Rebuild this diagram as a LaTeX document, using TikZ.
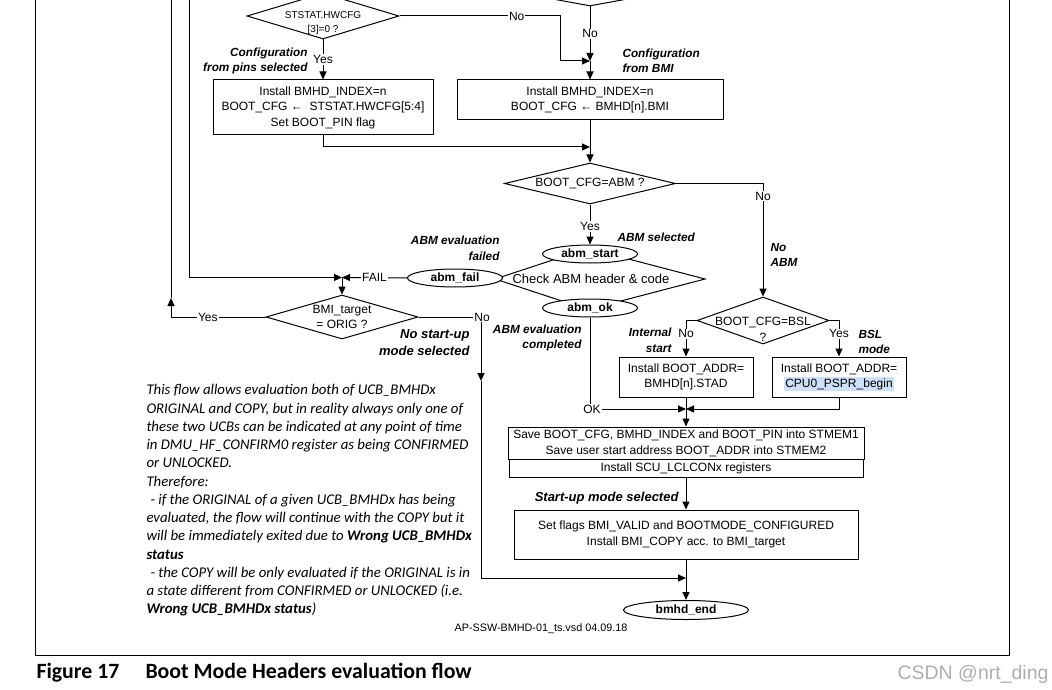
\documentclass[tikz,border=0pt]{standalone}
\usepackage{fontspec}
\setmainfont{Liberation Sans}
\newfontfamily\capfont{Carlito}
\usetikzlibrary{arrows.meta,shapes.geometric}
\definecolor{hl}{RGB}{204,224,248}
\begin{document}
\begin{tikzpicture}[x=1pt,y=-1pt,line width=1pt,
  >={Triangle[length=8pt,width=7pt]},
  box/.style={draw, rectangle, inner sep=0pt, align=center, font=\fontsize{12}{15}\selectfont},
  dia/.style={draw, diamond, inner sep=0pt, align=center, font=\fontsize{12}{15}\selectfont},
  term/.style={draw, ellipse, fill=white, inner sep=0pt, font=\bfseries\fontsize{12}{14}\selectfont},
  lab/.style={fill=white, inner sep=1pt, font=\fontsize{12}{14}\selectfont},
  note/.style={inner sep=0pt, font=\bfseries\itshape\fontsize{11.8}{15.5}\selectfont},
  notebig/.style={inner sep=0pt, font=\bfseries\itshape\fontsize{13}{17}\selectfont},
]
\useasboundingbox (0,0) rectangle (1052,690);
\clip (0,0) rectangle (1052,690);

% frame
\coordinate (fa) at (35,-5);
\coordinate (fb) at (35,655);
\coordinate (fc) at (1009,655);
\coordinate (fd) at (1009,-5);
\draw (fa) -- (fb) -- (fc) -- (fd);

% top part
\node[dia, aspect=5.45, minimum width=240, minimum height=44] (topd) at (590,-16) {};
\coordinate (j1) at (590,61);
\node[dia, aspect=3.3, minimum width=152, minimum height=46] (hw) at (323,16) {};
\node[font=\fontsize{10}{14}\selectfont, align=center, inner sep=0pt] (hwt) at (323,23) {STSTAT.HWCFG\\{[3]=0 ?}};
\coordinate (hwc) at (560,16);
\draw[->] (hw.east) -- node[lab,pos=0.73] (lno1) {No} (hwc) |- (j1);
\draw[->] (topd.south) -- node[lab] (lno2) {No} (j1);

\node[box, minimum width=220, minimum height=55, font=\fontsize{12}{15.5}\selectfont] (pin) at (323,107.5)
  {Install BMHD\_INDEX=n\\BOOT\_CFG ←\ \ STSTAT.HWCFG[5:4]\\Set BOOT\_PIN flag};
\node[box, minimum width=266, minimum height=40] (bmi) at (590,100)
  {Install BMHD\_INDEX=n\\BOOT\_CFG ← BMHD[n].BMI};
\draw[->] (hw.south) -- node[lab] (lyes1) {Yes} (pin.north);
\draw[->] (j1) -- (bmi.north);
\node[note, anchor=east, align=right] (n1) at (308,61) {Configuration\\from pins selected};
\node[note, anchor=west, align=left] (n2) at (622,61) {Configuration\\from BMI};

\coordinate (j2) at (590,147);
\draw[->] (pin.south) |- (j2);
\node[dia, aspect=4.17, minimum width=171, minimum height=41] (abm) at (590,183.5) {BOOT\_CFG=ABM ?};
\draw (bmi.south) -- (j2);
\draw[->] (j2) -- (abm.north);

% ABM check
\coordinate (hx1) at (495,279);
\coordinate (hx2) at (565,256);
\coordinate (hx3) at (617,256);
\coordinate (hx4) at (705,279);
\coordinate (hx5) at (617,302);
\coordinate (hx6) at (565,302);
\draw (hx1) -- (hx2) -- (hx3) -- (hx4) -- (hx5) -- (hx6) -- cycle;
\node[font=\fontsize{13}{14}\selectfont] (chk) at (591,279) {Check ABM header \& code};
\node[term, minimum width=95, minimum height=18] (astart) at (590,254) {abm\_start};
\node[term, minimum width=95, minimum height=18] (afail) at (455,278) {abm\_fail};
\node[term, minimum width=95, minimum height=18] (aok) at (590,308) {abm\_ok};
\draw[->] (abm.south) -- node[lab,pos=0.55] (lyes2) {Yes} (astart.north);
\node[note, anchor=west] (n3) at (617,237) {ABM selected};
\node[note, anchor=east, align=right] (n4) at (500,248.5) {ABM evaluation\\failed};

% FAIL
\coordinate (j3) at (342,277.5);
\coordinate (l2top) at (189,-5);
\draw[->] (afail.west) -- node[lab] (lfail) {FAIL} (j3);
\draw[->] (l2top) |- (j3);

% BMI_target
\node[dia, aspect=3.45, minimum width=152, minimum height=44] (bmit) at (342,317) {BMI\_target\\= ORIG ?};
\draw[->] (j3) -- (bmit.north);
\coordinate (c2) at (171,317);
\coordinate (c2a) at (171,298);
\coordinate (l1top) at (171,-5);
\draw (bmit.west) -- node[lab,pos=0.61] (lyes3) {Yes} (c2);
\draw[->] (c2) -- (c2a);
\draw (c2a) -- (l1top);
\coordinate (c3a) at (481,381);
\coordinate (j6) at (686,578);
\draw[->] (bmit.east) -| (c3a);
\node[lab] (lno3) at (482,317) {No};
\draw[->] (c3a) |- (j6);
\node[notebig, anchor=east, align=right] (n5) at (470,342.5) {No start-up\\mode selected};
\node[note, anchor=east, align=right] (n6) at (582,338) {ABM evaluation\\completed};

% no ABM branch
\node[dia, aspect=2.8, minimum width=132, minimum height=47] (bsl) at (763,320.5) {};
\node[font=\fontsize{12}{16}\selectfont, align=center, inner sep=0pt] (bslt) at (763,329) {BOOT\_CFG=BSL\\?};
\coordinate (c1) at (763,183.5);
\draw[->] (abm.east) -- (c1) -- node[lab,pos=0.11] (lno4) {No} (bsl.north);
\node[note, anchor=west, align=left] (n7) at (770,255) {No\\ABM};

\node[box, minimum width=134, minimum height=40] (intb) at (686,377) {Install BOOT\_ADDR=\\BMHD[n].STAD};
\node[box, minimum width=134, minimum height=40] (bslb) at (839,377)
  {Install BOOT\_ADDR=\\{\fboxsep=1pt\colorbox{hl}{CPU0\_PSPR\_begin}}};
\coordinate (c5) at (686,320.5);
\coordinate (c6) at (839,320.5);
\draw[->] (bsl.west) -- (c5) -- node[lab,pos=0.37] (lno5) {No} (intb.north);
\draw[->] (bsl.east) -- (c6) -- node[lab,pos=0.37] (lyes4) {Yes} (bslb.north);
\node[note, anchor=east, align=right] (n8) at (672,340.5) {Internal\\start};
\node[note, anchor=west, align=left] (n9) at (858,342) {BSL\\mode};

% merge
\coordinate (j5) at (686,409);
\draw[->] (aok.south) |- (j5);
\node[lab] (lok) at (592,409) {OK};
\draw (intb.south) -- (j5);
\draw[->] (bslb.south) |- (j5);

\node[box, minimum width=356, minimum height=32, font=\fontsize{12}{16}\selectfont] (st1) at (686,443)
  {Save BOOT\_CFG, BMHD\_INDEX and BOOT\_PIN into STMEM1\\Save user start address BOOT\_ADDR into STMEM2};
\node[box, minimum width=354, minimum height=18] (lcl) at (686,468) {Install SCU\_LCLCONx registers};
\draw[->] (j5) -- (st1.north);
\node[box, minimum width=344, minimum height=49, font=\fontsize{12}{16}\selectfont] (bmib) at (686,534.5)
  {Set flags BMI\_VALID and BOOTMODE\_CONFIGURED\\Install BMI\_COPY acc. to BMI\_target};
\draw[->] (lcl.south) -- (bmib.north);
\node[notebig, anchor=east] (n10) at (679,498) {Start-up mode selected};

\node[term, minimum width=125, minimum height=19] (endn) at (686,610) {bmhd\_end};
\draw (bmib.south) -- (j6);
\draw[->] (j6) -- (endn.north);

% side note
\node[anchor=north west, align=left, inner sep=0pt, font=\capfont\itshape\fontsize{14.8}{18.25}\selectfont] (txt) at (146,384)
{This flow allows evaluation both of UCB\_BMHDx\\
ORIGINAL and COPY, but in reality always only one of\\
these two UCBs can be indicated at any point of time\\
in DMU\_HF\_CONFIRM0 register as being CONFIRMED\\
or UNLOCKED.\\
Therefore:\\
\hspace*{4pt}- if the ORIGINAL of a given UCB\_BMHDx has being\\
evaluated, the flow will continue with the COPY but it\\
will be immediately exited due to \textbf{Wrong UCB\_BMHDx}\\
\textbf{status}\\
\hspace*{4pt}- the COPY will be only evaluated if the ORIGINAL is in\\
a state different from CONFIRMED or UNLOCKED (i.e.\\
\textbf{Wrong UCB\_BMHDx status})};

\node[font=\fontsize{10.8}{12}\selectfont] (foot) at (541,629) {AP-SSW-BMHD-01\_ts.vsd 04.09.18};
\node[anchor=base west, inner sep=0pt, font=\capfont\bfseries\fontsize{21.8}{24}\selectfont] (cap1) at (36,678) {Figure 17};
\node[anchor=base west, inner sep=0pt, font=\capfont\bfseries\fontsize{21.8}{24}\selectfont] (cap2) at (145,678) {Boot Mode Headers evaluation flow};
\node[anchor=base east, inner sep=0pt, text=black!32, font=\fontsize{19.5}{22}\selectfont] (wm) at (1049,679) {CSDN @nrt\_ding};
\end{tikzpicture}
\end{document}
